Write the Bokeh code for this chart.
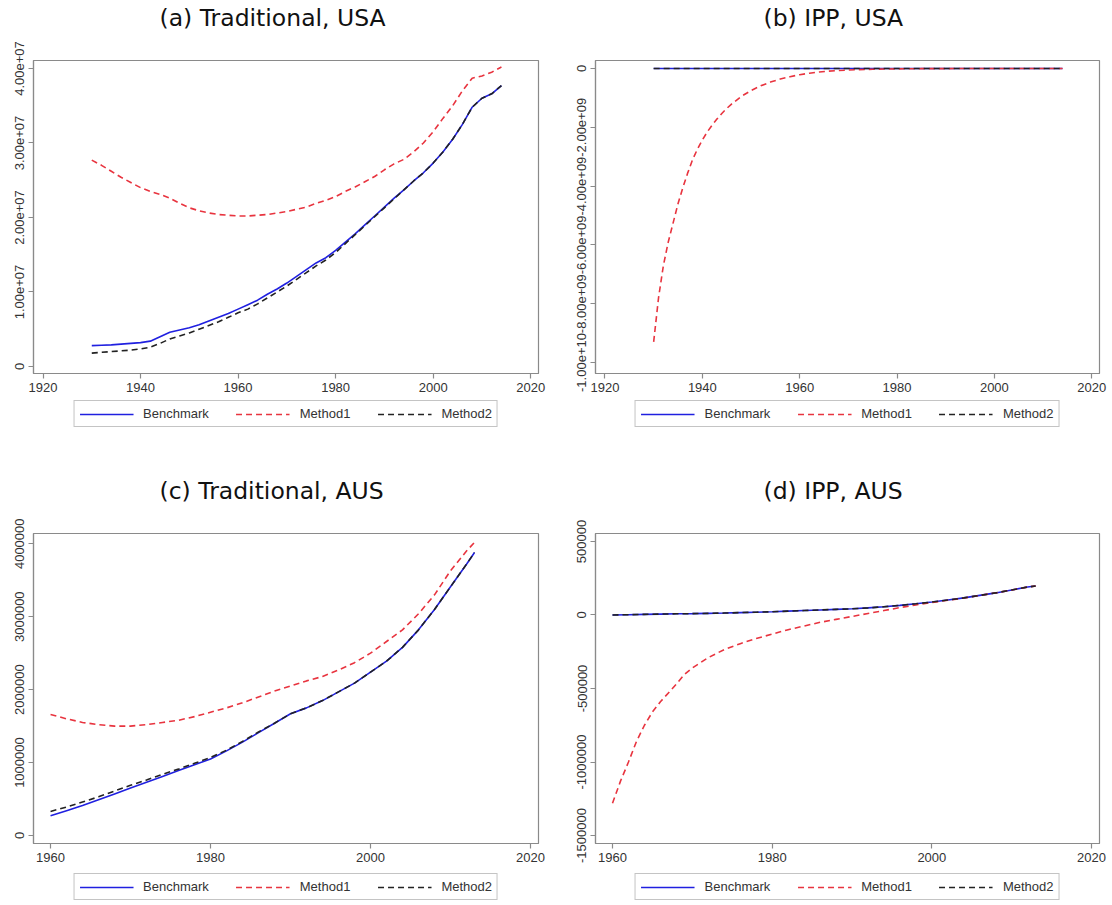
import math
from bokeh.plotting import figure
from bokeh.layouts import column, row
from bokeh.models import Range1d, FixedTicker, Legend, LegendItem, AllLabels, Title
from bokeh.embed import file_html
from bokeh.resources import INLINE

# ---------------- data ----------------
titles = ["(a) Traditional, USA", "(b) IPP, USA", "(c) Traditional, AUS", "(d) IPP, AUS"]
series_names = ["Benchmark", "Method1", "Method2"]

years_usa = [1930, 1932, 1934, 1936, 1938, 1940, 1942, 1944, 1946, 1948,
             1950, 1952, 1954, 1956, 1958, 1960, 1962, 1964, 1966, 1968,
             1970, 1972, 1974, 1976, 1978, 1980, 1982, 1984, 1986, 1988,
             1990, 1992, 1994, 1996, 1998, 2000, 2002, 2004, 2006, 2008,
             2010, 2012, 2014]

bench_a = [2.80e6, 2.85e6, 2.90e6, 3.00e6, 3.10e6, 3.20e6, 3.40e6, 4.00e6, 4.60e6, 4.90e6,
           5.20e6, 5.60e6, 6.10e6, 6.60e6, 7.10e6, 7.70e6, 8.30e6, 8.90e6, 9.70e6, 10.4e6,
           11.2e6, 12.1e6, 13.0e6, 13.9e6, 14.6e6, 15.6e6, 16.7e6, 17.8e6, 19.0e6, 20.2e6,
           21.4e6, 22.6e6, 23.7e6, 24.9e6, 26.0e6, 27.3e6, 28.8e6, 30.5e6, 32.5e6, 34.8e6,
           36.0e6, 36.6e6, 37.7e6]
method1_a = [27.7e6, 27.0e6, 26.2e6, 25.4e6, 24.7e6, 24.0e6, 23.5e6, 23.1e6, 22.6e6, 21.9e6,
             21.3e6, 20.9e6, 20.6e6, 20.4e6, 20.3e6, 20.2e6, 20.2e6, 20.3e6, 20.4e6, 20.6e6,
             20.8e6, 21.1e6, 21.4e6, 21.9e6, 22.3e6, 22.8e6, 23.5e6, 24.1e6, 24.8e6, 25.5e6,
             26.4e6, 27.2e6, 27.8e6, 28.8e6, 30.0e6, 31.5e6, 33.3e6, 35.0e6, 37.0e6, 38.7e6,
             39.0e6, 39.5e6, 40.2e6]
method2_a = [1.80e6, 1.90e6, 2.00e6, 2.10e6, 2.20e6, 2.35e6, 2.60e6, 3.10e6, 3.70e6, 4.10e6,
             4.50e6, 5.00e6, 5.50e6, 6.00e6, 6.60e6, 7.20e6, 7.70e6, 8.40e6, 9.20e6, 10.0e6,
             10.8e6, 11.7e6, 12.6e6, 13.5e6, 14.3e6, 15.3e6, 16.5e6, 17.7e6, 18.9e6, 20.1e6,
             21.3e6, 22.5e6, 23.7e6, 24.9e6, 26.0e6, 27.3e6, 28.8e6, 30.5e6, 32.5e6, 34.8e6,
             36.0e6, 36.6e6, 37.7e6]

years_b_flat = [1930, 1950, 1970, 1990, 2014]
bench_b = [0.0, 0.0, 0.0, 0.0, 0.0]
method2_b = [0.0, 0.0, 0.0, 0.0, 0.0]
years_b1 = [1930, 1931, 1932, 1933, 1934, 1935, 1936, 1937, 1938, 1939,
            1940, 1941, 1942, 1943, 1944, 1945, 1946, 1948, 1950, 1952,
            1954, 1956, 1958, 1960, 1962, 1964, 1966, 1968, 1970, 1975,
            1980, 1985, 1990, 2000, 2014]
method1_b = [-9.30e9, -7.80e9, -6.70e9, -5.90e9, -5.25e9, -4.60e9, -4.05e9, -3.55e9, -3.10e9, -2.74e9,
             -2.43e9, -2.16e9, -1.93e9, -1.72e9, -1.53e9, -1.36e9, -1.21e9, -0.95e9, -0.75e9, -0.59e9,
             -0.46e9, -0.36e9, -0.28e9, -0.21e9, -0.16e9, -0.12e9, -0.09e9, -0.07e9, -0.05e9, -0.025e9,
             -0.012e9, -0.006e9, -0.003e9, -0.001e9, 0.0]

years_aus = [1960, 1962, 1964, 1966, 1968, 1970, 1972, 1974, 1976, 1978,
             1980, 1982, 1984, 1986, 1988, 1990, 1992, 1994, 1996, 1998,
             2000, 2002, 2004, 2006, 2008, 2010, 2012, 2013]
bench_c = [0.27e6, 0.34e6, 0.41e6, 0.49e6, 0.57e6, 0.65e6, 0.73e6, 0.81e6, 0.89e6, 0.97e6,
           1.05e6, 1.16e6, 1.28e6, 1.41e6, 1.54e6, 1.67e6, 1.75e6, 1.85e6, 1.97e6, 2.09e6,
           2.24e6, 2.39e6, 2.58e6, 2.82e6, 3.10e6, 3.41e6, 3.72e6, 3.88e6]
method1_c = [1.66e6, 1.60e6, 1.55e6, 1.52e6, 1.50e6, 1.50e6, 1.52e6, 1.55e6, 1.58e6, 1.63e6,
             1.69e6, 1.75e6, 1.82e6, 1.90e6, 1.98e6, 2.05e6, 2.12e6, 2.18e6, 2.27e6, 2.37e6,
             2.50e6, 2.66e6, 2.82e6, 3.04e6, 3.30e6, 3.63e6, 3.90e6, 4.02e6]
method2_c = [0.33e6, 0.39e6, 0.46e6, 0.53e6, 0.61e6, 0.69e6, 0.76e6, 0.84e6, 0.91e6, 0.99e6,
             1.07e6, 1.17e6, 1.29e6, 1.42e6, 1.54e6, 1.67e6, 1.75e6, 1.85e6, 1.97e6, 2.09e6,
             2.24e6, 2.39e6, 2.58e6, 2.82e6, 3.10e6, 3.41e6, 3.72e6, 3.88e6]

bench_d = [0.0, 2.0e3, 4.0e3, 6.0e3, 8.0e3, 9.0e3, 11e3, 13e3, 16e3, 19e3,
           22e3, 26e3, 30e3, 34e3, 38e3, 42e3, 48e3, 56e3, 65e3, 76e3,
           88e3, 102e3, 116e3, 133e3, 150e3, 170e3, 190e3, 197e3]
method2_d = [0.0, 2.0e3, 4.0e3, 6.0e3, 8.0e3, 9.0e3, 11e3, 13e3, 16e3, 19e3,
             22e3, 26e3, 30e3, 34e3, 38e3, 42e3, 48e3, 56e3, 65e3, 76e3,
             88e3, 102e3, 116e3, 133e3, 150e3, 170e3, 190e3, 197e3]
years_d1 = [1960, 1961, 1962, 1963, 1964, 1965, 1966, 1967, 1968, 1969,
            1970, 1972, 1974, 1976, 1978, 1980, 1982, 1984, 1986, 1988,
            1990, 1992, 1994, 1996, 1998, 2000, 2002, 2004, 2006, 2008,
            2010, 2012, 2013]
method1_d = [-1.28e6, -1.13e6, -1.00e6, -0.86e6, -0.75e6, -0.66e6, -0.59e6, -0.53e6, -0.47e6, -0.405e6,
             -0.36e6, -0.29e6, -0.235e6, -0.195e6, -0.16e6, -0.13e6, -0.10e6, -0.075e6, -0.05e6, -0.03e6,
             -0.01e6, 0.01e6, 0.03e6, 0.05e6, 0.068e6, 0.085e6, 0.10e6, 0.115e6, 0.133e6, 0.15e6,
             0.17e6, 0.19e6, 0.197e6]

xticks_usa = [1920, 1940, 1960, 1980, 2000, 2020]
xticks_aus = [1960, 1980, 2000, 2020]
yticks_a = [0, 10000000, 20000000, 30000000, 40000000]
ylabels_a = ["0", "1.00e+07", "2.00e+07", "3.00e+07", "4.00e+07"]
yticks_b = [-10000000000, -8000000000, -6000000000, -4000000000, -2000000000, 0]
ylabels_b = ["-1.00e+10", "-8.00e+09", "-6.00e+09", "-4.00e+09", "-2.00e+09", "0"]
yticks_c = [0, 1000000, 2000000, 3000000, 4000000]
ylabels_c = ["0", "1000000", "2000000", "3000000", "4000000"]
yticks_d = [-1500000, -1000000, -500000, 0, 500000]
ylabels_d = ["-1500000", "-1000000", "-500000", "0", "500000"]

# ---------------- styling ----------------
BLUE = "#2020e0"
RED = "#e8343f"
BLACK = "#222222"
FRAME = "#8a8a8a"
TICK_FONT = "Liberation Sans"
TITLE_FONT = "DejaVu Sans"
STYLES = [(BLUE, "solid"), (RED, "6 4"), (BLACK, "6 4")]


def make_panel(title, xr, yr, xticks, yticks, ylabels, series, w, h, bl, br, bt, bb, title_offset):
    p = figure(width=w, height=h, output_backend="svg", toolbar_location=None, title=None,
               x_range=Range1d(*xr), y_range=Range1d(*yr),
               min_border_left=bl, min_border_right=br, min_border_top=bt, min_border_bottom=bb)
    # blank spacer between frame and title (closest to the frame)
    p.add_layout(Title(text=" ", text_font=TITLE_FONT, text_font_size="10px", standoff=16), "above")
    t = Title(text=title, align="left", offset=title_offset, standoff=0,
              text_font=TITLE_FONT, text_font_size="23.5px", text_font_style="normal",
              text_color="#111111")
    p.add_layout(t, "above")
    p.outline_line_color = FRAME
    p.outline_line_width = 1.2
    p.xgrid.visible = False
    p.ygrid.visible = False
    p.background_fill_color = "white"
    p.border_fill_color = "white"

    p.xaxis.ticker = FixedTicker(ticks=xticks)
    p.yaxis.ticker = FixedTicker(ticks=yticks)
    p.yaxis.major_label_overrides = {t_: l for t_, l in zip(yticks, ylabels)}
    p.yaxis.major_label_orientation = "parallel"
    for ax in (p.xaxis, p.yaxis):
        ax.axis_line_color = FRAME
        ax.axis_line_width = 1.2
        ax.major_tick_line_color = FRAME
        ax.major_tick_line_width = 1.2
        ax.major_tick_out = 5
        ax.major_tick_in = 0
        ax.minor_tick_line_color = None
        ax.major_label_text_font = TICK_FONT
        ax.major_label_text_font_size = "13px"
        ax.major_label_text_color = "#333333"
        ax.major_label_standoff = 4
        ax.major_label_policy = AllLabels()

    for (xs, ys), (col, dash) in zip(series, STYLES):
        p.line(xs, ys, line_color=col, line_width=1.6, line_dash=dash)
    return p


def make_legend(w, h, bl, br, margin):
    q = figure(width=w, height=h, output_backend="svg", toolbar_location=None,
               x_range=Range1d(0, 1), y_range=Range1d(0, 1),
               x_axis_type=None, y_axis_type=None,
               min_border_left=bl, min_border_right=br, min_border_top=0, min_border_bottom=0)
    q.outline_line_color = None
    q.xgrid.visible = False
    q.ygrid.visible = False
    # legend-only renderers: their points lie outside the visible range
    rs = [q.line([5, 6], [5, 6], line_color=col, line_width=1.6, line_dash=dash) for col, dash in STYLES]
    legend = Legend(items=[LegendItem(label=n, renderers=[r]) for n, r in zip(series_names, rs)],
                    orientation="horizontal", location="top_center")
    legend.border_line_color = FRAME
    legend.border_line_width = 1.2
    legend.glyph_width = 54
    legend.glyph_height = 14
    legend.label_standoff = 10
    legend.spacing = 27
    legend.padding = 5
    legend.margin = margin
    legend.label_text_font = TICK_FONT
    legend.label_text_font_size = "13px"
    legend.label_text_color = "#333333"
    legend.label_height = 14
    legend.background_fill_alpha = 0
    q.add_layout(legend, "center")
    return q


xr_usa = (1918.05, 2021.6)
xr_aus = (1957.87, 2021.0)

pa = make_panel(titles[0], xr_usa, (-0.94e6, 4.107e7), xticks_usa, yticks_a, ylabels_a,
                [(years_usa, bench_a), (years_usa, method1_a), (years_usa, method2_a)],
                556, 400, 33, 18, 60, 27, 126)
pb = make_panel(titles[1], xr_usa, (-1.0374e10, 2.72e8), xticks_usa, yticks_b, ylabels_b,
                [(years_b_flat, bench_b), (years_b1, method1_b), (years_b_flat, method2_b)],
                555, 400, 39, 12, 60, 27, 168)
pc = make_panel(titles[2], xr_aus, (-1.097e5, 4.141e6), xticks_aus, yticks_c, ylabels_c,
                [(years_aus, bench_c), (years_aus, method1_c), (years_aus, method2_c)],
                556, 418, 33, 18, 81, 27, 126)
pd_ = make_panel(titles[3], xr_aus, (-1.554e6, 5.54e5), xticks_aus, yticks_d, ylabels_d,
                 [(years_aus, bench_d), (years_d1, method1_d), (years_aus, method2_d)],
                 555, 418, 39, 12, 81, 27, 168)

la = make_legend(556, 52, 33, 18, 0)
lb = make_legend(555, 52, 39, 12, 0)
lc = make_legend(556, 34, 33, 18, 3)
ld = make_legend(555, 34, 39, 12, 3)

layout = column(row(pa, pb), row(la, lb), row(pc, pd_), row(lc, ld))
open("out.html", "w").write(file_html(layout, INLINE))
